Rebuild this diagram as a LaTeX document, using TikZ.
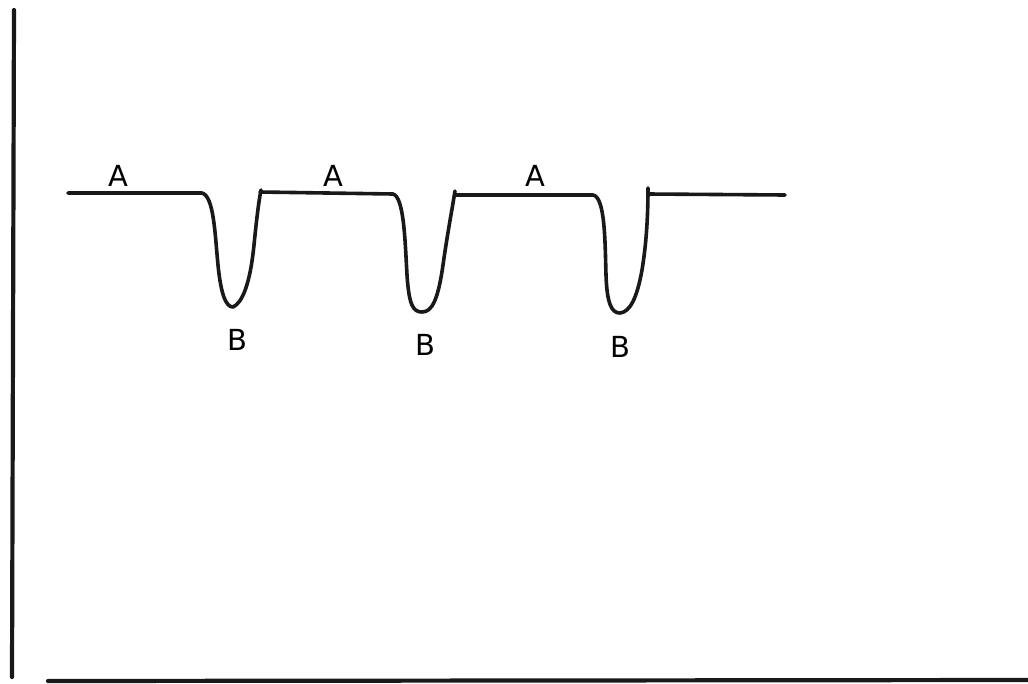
\documentclass[tikz,border=0pt]{standalone}
\usepackage{fontspec}
\setmainfont{DejaVu Sans}
\begin{document}
\begin{tikzpicture}[x=1pt,y=-1pt,
  curve/.style={line width=3.6pt,line cap=round,line join=round,black!90},
  axis/.style={line width=4.2pt,line cap=round,black!90},
  lbl/.style={font=\fontsize{29}{31}\selectfont,inner sep=0pt}]
\useasboundingbox (0,0) rectangle (1028,683);
\coordinate (ytop) at (14,10);
\coordinate (ybot) at (12,677);
\coordinate (xl) at (48,681);
\coordinate (xr) at (1028,680);
\draw[axis] (ytop) -- (ybot);
\draw[axis] (xl) -- (xr);
\coordinate (s) at (68,193);
\coordinate (e) at (785,195);
\draw[curve] (s) -- (202,193)
  .. controls (214,196) and (215,235) .. (218,265)
  .. controls (221,295) and (226,307) .. (233,307)
  .. controls (242,303) and (250,285) .. (254,245)
  .. controls (257,215) and (259,200) .. (261,190)
  (260,192) -- (393,194)
  .. controls (404,197) and (405,240) .. (407,275)
  .. controls (409,305) and (413,312) .. (422,312)
  .. controls (432,312) and (438,300) .. (443,265)
  .. controls (448,230) and (452,210) .. (455,191)
  (455,195) -- (593,195)
  .. controls (605,197) and (605,240) .. (606,275)
  .. controls (607,305) and (612,313) .. (620,313)
  .. controls (630,312) and (637,298) .. (642,270)
  .. controls (647,240) and (648,210) .. (648,188)
  (648,194) -- (e);
\node[lbl] (a1) at (118,176) {A};
\node[lbl] (a2) at (333,176) {A};
\node[lbl] (a3) at (535,176) {A};
\node[lbl] (b1) at (237,340) {B};
\node[lbl] (b2) at (425,345) {B};
\node[lbl] (b3) at (620,347) {B};
\end{tikzpicture}
\end{document}
